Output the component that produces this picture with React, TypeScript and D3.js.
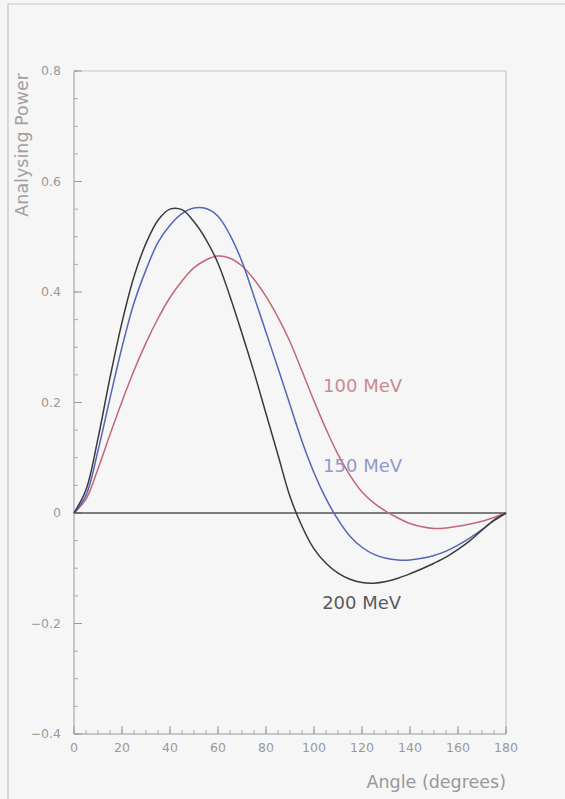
import * as d3 from "d3";

// angles (degrees) shared by all three curves
const angles = [
  0, 5, 10, 15, 20, 25, 30, 35, 40, 45, 50, 55, 60, 65, 70, 75, 80, 85, 90,
  95, 100, 105, 110, 115, 120, 125, 130, 135, 140, 145, 150, 155, 160, 165,
  170, 175, 180,
];

const ap100 = [
  0, 0.025, 0.08, 0.142, 0.202, 0.258, 0.308, 0.352, 0.39, 0.42, 0.444,
  0.458, 0.465, 0.461, 0.447, 0.423, 0.392, 0.354, 0.31, 0.257, 0.203, 0.152,
  0.106, 0.068, 0.038, 0.018, 0.003, -0.009, -0.019, -0.025, -0.028, -0.027,
  -0.024, -0.02, -0.015, -0.008, 0,
];

const ap150 = [
  0, 0.032, 0.113, 0.208, 0.3, 0.38, 0.44, 0.49, 0.521, 0.542, 0.552, 0.551,
  0.537, 0.503, 0.455, 0.392, 0.327, 0.262, 0.196, 0.13, 0.073, 0.026,
  -0.012, -0.042, -0.062, -0.075, -0.082, -0.085, -0.085, -0.082, -0.077,
  -0.069, -0.058, -0.045, -0.03, -0.014, 0,
];

const ap200 = [
  0, 0.042, 0.135, 0.245, 0.345, 0.428, 0.488, 0.53, 0.55, 0.549, 0.527,
  0.495, 0.452, 0.392, 0.325, 0.255, 0.18, 0.105, 0.03, -0.024, -0.065,
  -0.091, -0.109, -0.12, -0.126, -0.127, -0.124, -0.118, -0.11, -0.101,
  -0.091, -0.08, -0.066, -0.05, -0.031, -0.013, 0,
];

const seriesNames = ["100 MeV", "150 MeV", "200 MeV"];
// where each energy label sits, in data coordinates (angle, value)
const labelAngles = [103.8, 103.8, 103.4];
const labelValues = [0.219, 0.074, -0.174];

const xMajor = [0, 20, 40, 60, 80, 100, 120, 140, 160, 180];
const yMajor = [-0.4, -0.2, 0, 0.2, 0.4, 0.6, 0.8];
const yLabels = ["\u22120.4", "\u22120.2", "0", "0.2", "0.4", "0.6", "0.8"];

const W = 565;
const H = 799;
const plot = { left: 74, right: 506, top: 71, bottom: 734 };

const colors = ["#c06878", "#5565b8", "#3a3a3a"];
const labelColors = ["#c98a94", "#9499c6", "#5a5a5a"];
const font = "'DejaVu Sans', sans-serif";

export default function App() {
  const x = d3.scaleLinear().domain([0, 180]).range([plot.left, plot.right]);
  const y = d3.scaleLinear().domain([-0.4, 0.8]).range([plot.bottom, plot.top]);

  const line = d3
    .line<number>()
    .x((_, i) => x(angles[i]))
    .y((d) => y(d))
    .curve(d3.curveCatmullRom.alpha(0.5));

  const series = [ap100, ap150, ap200];

  const xMinor = d3.range(0, 181, 5);
  const yMinor = d3.range(-0.4, 0.8001, 0.05);

  return (
    <svg
      width={W}
      height={H}
      style={{ position: "absolute", left: 0, top: 0, background: "#f6f6f6" }}
    >
      {/* outer frame, only left and top visible */}
      <line x1={8} y1={4} x2={W} y2={4} stroke="#c4c4c4" />
      <line x1={8} y1={4} x2={8} y2={H} stroke="#b8b8b8" />

      {/* plot frame */}
      <line x1={plot.left} y1={plot.top} x2={plot.right} y2={plot.top} stroke="#c8c8c8" />
      <line x1={plot.right} y1={plot.top} x2={plot.right} y2={plot.bottom} stroke="#bbb" />
      <line x1={plot.left} y1={plot.top} x2={plot.left} y2={plot.bottom} stroke="#999" />
      <line x1={plot.left} y1={plot.bottom} x2={plot.right} y2={plot.bottom} stroke="#999" />

      {/* y ticks */}
      {yMinor.map((v, i) => (
        <line
          key={"ym" + i}
          x1={plot.left}
          x2={plot.left + 4}
          y1={y(v)}
          y2={y(v)}
          stroke="#aaa"
        />
      ))}
      {yMajor.map((v, i) => (
        <g key={"yM" + i}>
          <line x1={plot.left} x2={plot.left + 8} y1={y(v)} y2={y(v)} stroke="#999" />
          <text
            x={61}
            y={y(v)}
            dy="0.35em"
            textAnchor="end"
            fontFamily={font}
            fontSize={12.5}
            fill="#9a9a9a"
          >
            {yLabels[i]}
          </text>
        </g>
      ))}

      {/* x ticks */}
      {xMinor.map((v, i) => (
        <line
          key={"xm" + i}
          x1={x(v)}
          x2={x(v)}
          y1={plot.bottom}
          y2={plot.bottom - 4}
          stroke="#aaa"
        />
      ))}
      {xMajor.map((v, i) => (
        <g key={"xM" + i}>
          <line x1={x(v)} x2={x(v)} y1={plot.bottom} y2={plot.bottom - 8} stroke="#999" />
          <text
            x={x(v)}
            y={plot.bottom + 18}
            textAnchor="middle"
            fontFamily={font}
            fontSize={12.5}
            fill="#9a9a9a"
          >
            {v}
          </text>
        </g>
      ))}

      {/* zero line */}
      <line
        x1={plot.left}
        x2={plot.right}
        y1={y(0)}
        y2={y(0)}
        stroke="#555"
        strokeWidth={1.6}
      />

      {/* curves */}
      {series.map((s, i) => (
        <path
          key={"s" + i}
          d={line(s) || ""}
          fill="none"
          stroke={colors[i]}
          strokeWidth={1.5}
        />
      ))}

      {/* curve labels */}
      {seriesNames.map((n, i) => (
        <text
          key={"l" + i}
          x={x(labelAngles[i])}
          y={y(labelValues[i])}
          fontFamily={font}
          fontSize={18}
          fill={labelColors[i]}
        >
          {n}
        </text>
      ))}

      {/* axis titles */}
      <text
        x={plot.right}
        y={788}
        textAnchor="end"
        fontFamily={font}
        fontSize={17.5}
        fill="#999"
      >
        Angle (degrees)
      </text>
      <text
        transform="translate(28,73) rotate(-90)"
        textAnchor="end"
        fontFamily={font}
        fontSize={17.5}
        fill="#a0a0a0"
      >
        Analysing Power
      </text>
    </svg>
  );
}
